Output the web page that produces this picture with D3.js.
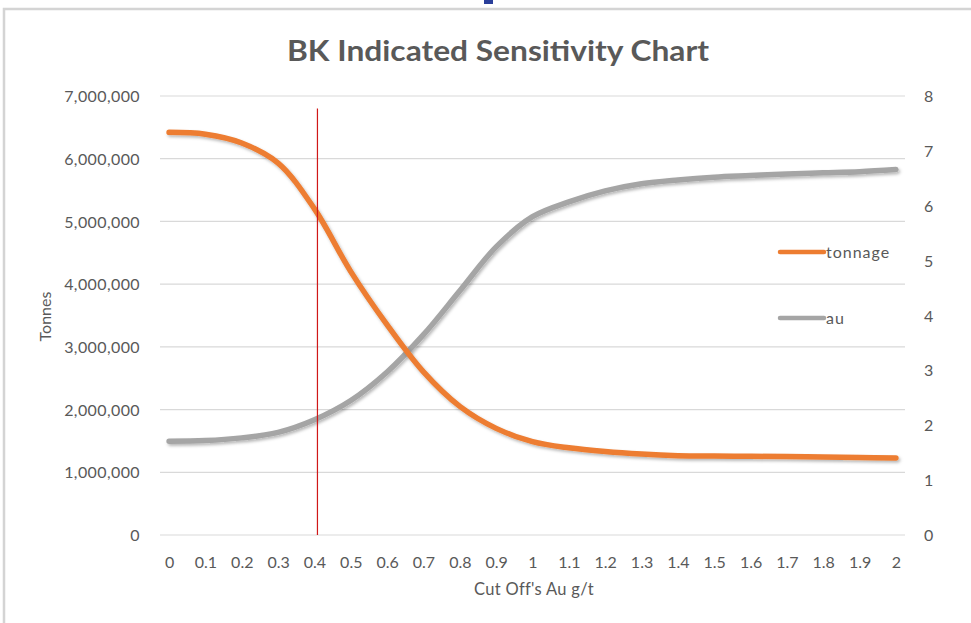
<!DOCTYPE html>
<html>
<head>
<meta charset="utf-8">
<script src="https://cdn.jsdelivr.net/npm/d3@7"></script>
<style>
  html, body { margin: 0; padding: 0; background: #fff; }
  svg { display: block; }
  text { font-family: Lato, "Open Sans", sans-serif; fill: #595959; }
</style>
</head>
<body>
<svg id="chart" width="971" height="623"></svg>
<script>
// ---- data ----
const cutoffs = ["0","0.1","0.2","0.3","0.4","0.5","0.6","0.7","0.8","0.9","1","1.1","1.2","1.3","1.4","1.5","1.6","1.7","1.8","1.9","2"];
const tonnage = [6420000, 6390000, 6250000, 5930000, 5200000, 4200000, 3350000, 2600000, 2050000, 1700000, 1490000, 1390000, 1330000, 1290000, 1265000, 1258000, 1255000, 1250000, 1242000, 1236000, 1228000];
const au = [1.71, 1.72, 1.77, 1.87, 2.10, 2.45, 2.97, 3.65, 4.45, 5.25, 5.80, 6.07, 6.27, 6.40, 6.47, 6.52, 6.55, 6.58, 6.60, 6.62, 6.66];
const leftTicks = [0, 1000000, 2000000, 3000000, 4000000, 5000000, 6000000, 7000000];
const rightTicks = [0, 1, 2, 3, 4, 5, 6, 7, 8];
const markerCutoff = "0.4";
const markerTop = 6800000;
const seriesNames = ["tonnage", "au"];
const colors = ["#ED7D31", "#A5A5A5"];
const titleText = "BK Indicated Sensitivity Chart";
const yTitle = "Tonnes";
const xTitle = "Cut Off's Au g/t";

const svg = d3.select("#chart");

// outer frame of the chart object
svg.append("rect").attr("x", 4).attr("y", 9).attr("width", 990).attr("height", 640)
  .attr("fill", "none").attr("stroke", "#d4d4d4").attr("stroke-width", 2.5);
// small blue fragment at top edge
svg.append("rect").attr("x", 484).attr("y", 0).attr("width", 9).attr("height", 4).attr("fill", "#2a3f9a");

const plot = { left: 160, right: 905, top: 96, bottom: 535 };

const x = d3.scalePoint().domain(cutoffs).range([plot.left, plot.right]).padding(0.25);
const yL = d3.scaleLinear().domain([0, 7000000]).range([plot.bottom, plot.top]);
const yR = d3.scaleLinear().domain([0, 8]).range([plot.bottom, plot.top]);

const defs = svg.append("defs");
const f = defs.append("filter").attr("id", "shadow").attr("x", "-5%").attr("y", "-5%").attr("width", "110%").attr("height", "120%");
f.append("feDropShadow").attr("dx", 1.5).attr("dy", 2).attr("stdDeviation", 1.6)
  .attr("flood-color", "#000").attr("flood-opacity", 0.28);

// gridlines
svg.append("g").selectAll("line").data(leftTicks).join("line")
  .attr("x1", plot.left).attr("x2", plot.right)
  .attr("y1", d => yL(d)).attr("y2", d => yL(d))
  .attr("stroke", "#d9d9d9").attr("stroke-width", 1.2);

// left axis
const gL = svg.append("g").attr("transform", `translate(${plot.left - 20},0)`)
  .call(d3.axisLeft(yL).tickValues(leftTicks).tickFormat(d3.format(",")).tickSize(0).tickPadding(0));
gL.select(".domain").remove();
gL.selectAll("text").style("font-size", "16px").style("letter-spacing", "0.4px").attr("dy", "0.35em");

// right axis
const gR = svg.append("g").attr("transform", `translate(${plot.right + 19},0)`)
  .call(d3.axisRight(yR).tickValues(rightTicks).tickSize(0).tickPadding(0));
gR.select(".domain").remove();
gR.selectAll("text").style("font-size", "16px").attr("dy", "0.35em");

// bottom axis
const gB = svg.append("g").attr("transform", `translate(0,${plot.bottom + 22})`)
  .call(d3.axisBottom(x).tickSize(0).tickPadding(0));
gB.select(".domain").remove();
gB.selectAll("text").style("font-size", "16px").attr("dy", "0.71em");

// axis titles
svg.append("text").attr("transform", `translate(51,${(plot.top + plot.bottom) / 2 + 1}) rotate(-90)`)
  .attr("text-anchor", "middle").style("font-size", "16px").text(yTitle);
svg.append("text").attr("x", 534).attr("y", 595).attr("text-anchor", "middle")
  .style("font-size", "16.5px").style("letter-spacing", "0.3px").text(xTitle);

// title
svg.append("text").attr("x", 498).attr("y", 61).attr("text-anchor", "middle")
  .attr("textLength", 422).attr("lengthAdjust", "spacingAndGlyphs")
  .style("font-size", "29px").style("font-weight", "700").text(titleText);

// series lines
const lineT = d3.line().x((d, i) => x(cutoffs[i])).y(d => yL(d)).curve(d3.curveCatmullRom.alpha(0.5));
const lineA = d3.line().x((d, i) => x(cutoffs[i])).y(d => yR(d)).curve(d3.curveCatmullRom.alpha(0.5));

svg.append("path").datum(au).attr("d", lineA).attr("fill", "none")
  .attr("stroke", colors[1]).attr("stroke-width", 5.5).attr("stroke-linecap", "round")
  .attr("filter", "url(#shadow)");
svg.append("path").datum(tonnage).attr("d", lineT).attr("fill", "none")
  .attr("stroke", colors[0]).attr("stroke-width", 5.5).attr("stroke-linecap", "round")
  .attr("filter", "url(#shadow)");

// red marker line at cut-off 0.4
svg.append("line")
  .attr("x1", x(markerCutoff) + 3).attr("x2", x(markerCutoff) + 3)
  .attr("y1", yL(markerTop)).attr("y2", plot.bottom)
  .attr("stroke", "#d01818").attr("stroke-width", 1.2);

// legend
const legY = [252, 318];
const leg = svg.append("g");
seriesNames.forEach((name, i) => {
  leg.append("line").attr("x1", 780).attr("x2", 824).attr("y1", legY[i]).attr("y2", legY[i])
    .attr("stroke", colors[i]).attr("stroke-width", 4.5).attr("stroke-linecap", "round");
  leg.append("text").attr("x", 826).attr("y", legY[i]).attr("dy", "0.35em")
    .style("font-size", "16px").style("letter-spacing", "1px").text(name);
});
</script>
</body>
</html>
